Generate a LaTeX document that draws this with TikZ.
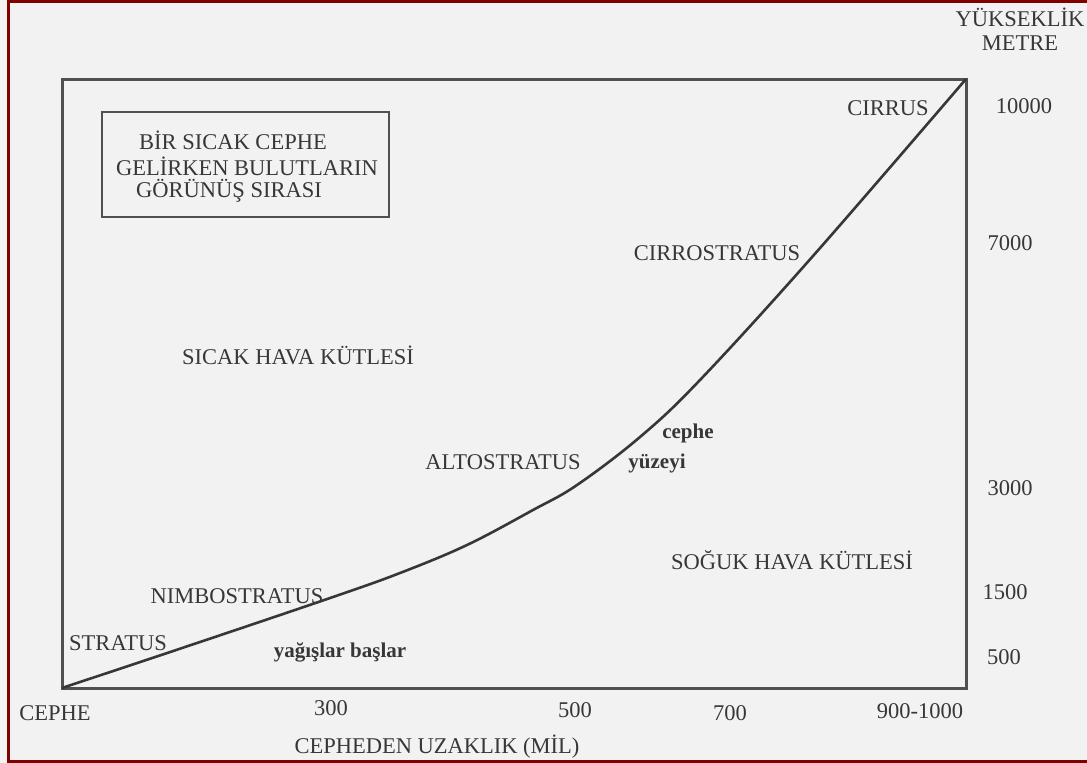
\documentclass[tikz,border=0pt]{standalone}
\usepackage{fontspec}
\setmainfont{Liberation Serif}
\usetikzlibrary{positioning}
\definecolor{cepheBorderRed}{RGB}{128, 0, 0}
\definecolor{cepheBack}{RGB}{242, 242, 242}
\definecolor{cepheInk}{RGB}{55, 55, 55}
\definecolor{cepheFrame}{RGB}{80, 80, 80}

\begin{document}
\begin{tikzpicture}[
  x=1pt,y=-1pt,
  cloudtext/.style={
    text=cepheInk,
    inner sep=0pt,
    font=\fontsize{22.5}{26}\selectfont
  },
  remark/.style={cloudtext,font=\bfseries\fontsize{21}{24}\selectfont},
  frame/.style={draw=cepheFrame,line width=3pt},
  frontline/.style={draw=cepheInk,line width=2.6pt,line join=round}
]
  % background and outer border
  \fill[cepheBack] (0,0) rectangle (1087,763);
  \useasboundingbox (0,0) rectangle (1087,763);
  \draw[cepheBorderRed,line width=3pt] (1087,1.5) -| (8.5,761.5) -- (1087,761.5);

  % chart frame
  \coordinate (front) at (62,688);
  \coordinate (corner) at (966,79);
  \draw[frame] (front) rectangle (corner);

  % title box
  \draw[frame,line width=2.6pt] (102,112) rectangle (389,217);
  \node[cloudtext] (title1) at (233,140) {BİR SICAK CEPHE};
  \node[cloudtext] (title2) at (247,166) {GELİRKEN BULUTLARIN};
  \node[cloudtext] (title3) at (229,191) {GÖRÜNÜŞ SIRASI};

  % front surface
  \draw[frontline] plot[smooth,tension=0.6] coordinates {
    (front) (200,642) (333,597) (400,573) (467,545) (533,510) (577,485)
    (640,437) (700,380) (813,256) (corner)};

  % cloud names
  \node[cloudtext] (cirrus) at (888,108) {CIRRUS};
  \node[cloudtext] (cirrostratus) at (717,253) {CIRROSTRATUS};
  \node[cloudtext] (altostratus) at (503,462) {ALTOSTRATUS};
  \node[cloudtext] (nimbostratus) at (237,596) {NIMBOSTRATUS};
  \node[cloudtext] (stratus) at (118,643) {STRATUS};
  \node[remark] (surface1) at (688,433) {cephe};
  \node[remark] (surface2) at (657,463) {yüzeyi};
  \node[remark] (rain) at (340,652) {yağışlar başlar};

  % air masses
  \node[cloudtext] (warm) at (298,355) {SICAK HAVA KÜTLESİ};
  \node[cloudtext] (cold) at (792,560) {SOĞUK HAVA KÜTLESİ};

  % height axis
  \node[cloudtext] (height) at (1020,17) {YÜKSEKLİK};
  \node[cloudtext,below=9pt of height] (metre) {METRE};
  \node[cloudtext] (h10000) at (1024,106) {10000};
  \node[cloudtext] (h7000) at (1010,243) {7000};
  \node[cloudtext] (h3000) at (1010,488) {3000};
  \node[cloudtext] (h1500) at (1005,592) {1500};
  \node[cloudtext] (h500) at (1004,657) {500};

  % distance axis
  \node[cloudtext] (d0) at (55,713) {CEPHE};
  \node[cloudtext] (d300) at (331,708) {300};
  \node[cloudtext] (d500) at (575,710) {500};
  \node[cloudtext] (d700) at (730,713) {700};
  \node[cloudtext] (d1000) at (920,711) {900-1000};
  \node[cloudtext] (distance) at (437,747) {CEPHEDEN UZAKLIK (MİL)};
\end{tikzpicture}
\end{document}
